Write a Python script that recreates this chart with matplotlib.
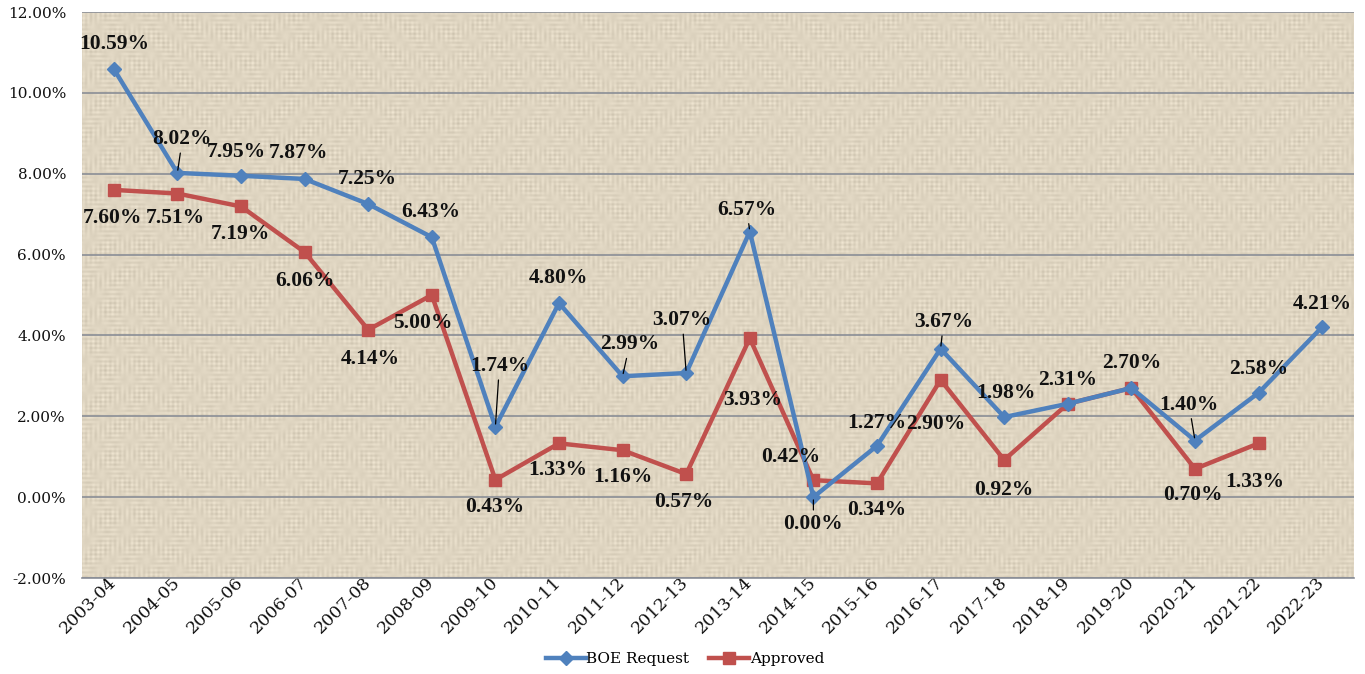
import numpy as np
import matplotlib
matplotlib.use("Agg")
import matplotlib.pyplot as plt
from matplotlib.ticker import FuncFormatter, MultipleLocator
from matplotlib.transforms import ScaledTranslation

# ---- data -------------------------------------------------------------
years = ["2003-04", "2004-05", "2005-06", "2006-07", "2007-08", "2008-09",
         "2009-10", "2010-11", "2011-12", "2012-13", "2013-14", "2014-15",
         "2015-16", "2016-17", "2017-18", "2018-19", "2019-20", "2020-21",
         "2021-22", "2022-23"]
boe_request = [10.59, 8.02, 7.95, 7.87, 7.25, 6.43, 1.74, 4.80, 2.99, 3.07,
               6.57, 0.00, 1.27, 3.67, 1.98, 2.31, 2.70, 1.40, 2.58, 4.21]
approved = [7.60, 7.51, 7.19, 6.06, 4.14, 5.00, 0.43, 1.33, 1.16, 0.57,
            3.93, 0.42, 0.34, 2.90, 0.92, 2.31, 2.70, 0.70, 1.33]

# ---- label placement (pixel offsets from each point; None = no label) --
boe_offsets = [(0, 25), (5, 34), (-5, 24), (-6, 26), (-1, 25), (-1, 25),
               (4, 61), (-1, 25), (7, 32), (-4, 53), (-3, 22), (0, -27),
               (0, 23), (3, 27), (2, 24), (0, 24), (0, 25), (-6, 36),
               (0, 24), (0, 23)]
boe_leader = {1, 6, 8, 9, 10, 11, 13, 17}
appr_offsets = [(-1, -28), (-2, -24), (-1, -28), (0, -29), (2, -29),
                (-9, -28), (-1, -27), (-1, -27), (0, -27), (-2, -28),
                (3, -62), (-23, 23), (0, -27), (-5, -44), (0, -30),
                None, None, (-2, -26), (-4, -39)]

BLUE = "#4F81BD"
RED = "#C0504D"
GRID = "#8A8E96"

fig = plt.figure(figsize=(13.65, 6.74), dpi=100)
fig.patch.set_facecolor("white")
ax = fig.add_axes([82 / 1365, 1 - 578 / 674, (1354 - 82) / 1365, (578 - 12) / 674])

# woven canvas backdrop
h, w = 566, 1272
yy, xx = np.mgrid[0:h, 0:w]
weave = (0.03 * np.sin(xx * 1.3) * (0.5 + 0.5 * np.sin(yy * 0.21 + np.sin(xx * 0.031) * 3))
         + 0.03 * np.sin(yy * 1.4) * (0.5 + 0.5 * np.sin(xx * 0.17 + np.cos(yy * 0.043) * 3))
         + 0.015 * np.sin(xx * 0.47 + yy * 0.011) * np.sin(yy * 0.33))
base = np.array([0xDF, 0xD5, 0xC1]) / 255.0
tex = np.clip(base[None, None, :] + weave[:, :, None], 0, 1)
ax.imshow(tex, extent=[-0.5, 19.5, -2, 12], aspect="auto", zorder=0,
          interpolation="bilinear")

x_boe = np.arange(len(boe_request))
x_appr = np.arange(len(approved))

ax.plot(x_boe, boe_request, color=BLUE, lw=3.2, marker="D", ms=7.5,
        label="BOE Request", zorder=4)
ax.plot(x_appr, approved, color=RED, lw=3.2, marker="s", ms=9,
        label="Approved", zorder=3)

ax.set_xlim(-0.5, 19.5)
ax.set_ylim(-2, 12)
ax.yaxis.set_major_locator(MultipleLocator(2))
ax.yaxis.set_major_formatter(FuncFormatter(lambda v, p: f"{v:.2f}%"))
ax.grid(axis="y", color=GRID, lw=1.2, zorder=1)
ax.set_axisbelow(True)
for s in ["left", "right", "top"]:
    ax.spines[s].set_visible(False)
ax.spines["bottom"].set_color(GRID)
ax.spines["bottom"].set_linewidth(1.2)

ax.tick_params(axis="y", length=0, pad=11.5, labelsize=11, colors="#111111")
ax.tick_params(axis="x", length=0, pad=0, labelsize=12.5, colors="#111111")
for t in ax.get_yticklabels():
    t.set_family("DejaVu Serif")
ax.set_xticks(x_boe)
ax.set_xticklabels(years, rotation=45, ha="right", va="top",
                   family="DejaVu Serif")
shift = ScaledTranslation(6 / 100, 4 / 100, fig.dpi_scale_trans)
for t in ax.get_xticklabels():
    t.set_transform(t.get_transform() + shift)

label_kw = dict(textcoords="offset pixels", ha="center", va="center",
                fontsize=15.5, fontweight="bold", family="Liberation Serif",
                color="#111111", zorder=6)


def put_labels(xs, ys, offsets, leaders):
    for i, (x, y) in enumerate(zip(xs, ys)):
        off = offsets[i]
        if off is None:
            continue
        kw = dict(label_kw)
        if i in leaders:
            kw["arrowprops"] = dict(arrowstyle="-", color="black", lw=0.9,
                                    shrinkA=1, shrinkB=2)
        ax.annotate(f"{y:.2f}%", (x, y), xytext=off, **kw)


put_labels(x_boe, boe_request, boe_offsets, boe_leader)
put_labels(x_appr, approved, appr_offsets, set())

leg = fig.legend(loc="center", bbox_to_anchor=(685 / 1365, 1 - 659 / 674),
                 ncol=2, frameon=False, handlelength=2.6, handletextpad=0.05,
                 columnspacing=1.3, prop={"family": "DejaVu Serif", "size": 11})

fig.savefig("out.png", dpi=100)
